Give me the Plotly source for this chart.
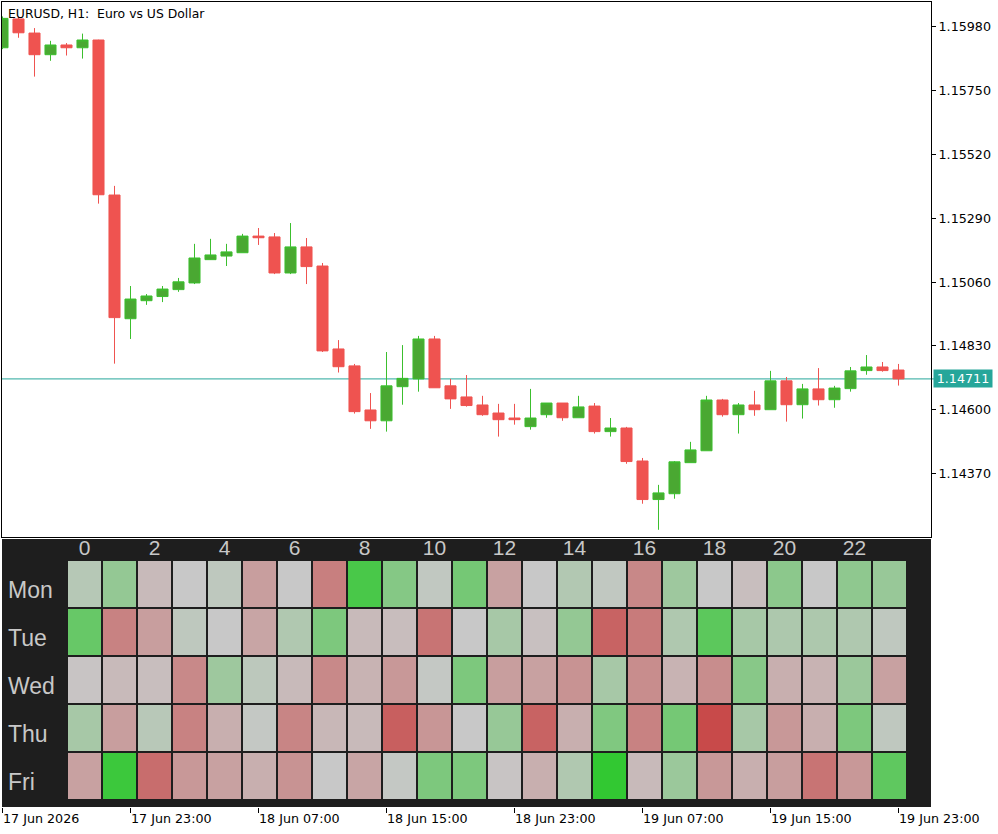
import pandas as pd
import plotly.graph_objects as go

W, H = 998, 834

symbol = "EURUSD, H1:\u00a0 Euro vs US Dollar"

# hourly bars, 17 Jun 2026 15:00 .. 19 Jun 2026 23:00
times = pd.date_range("2026-06-17 15:00", periods=57, freq="h")

opens = [1.15905, 1.16009, 1.15958, 1.15880, 1.15915, 1.15905, 1.15933, 1.15374, 1.14928, 1.14993,
         1.15008, 1.15033, 1.15057, 1.15141, 1.15154, 1.15166, 1.15226, 1.15223, 1.15093, 1.15187,
         1.15118, 1.14819, 1.14758, 1.14599, 1.14560, 1.14683, 1.14711, 1.14855, 1.14686, 1.14646,
         1.14617, 1.14588, 1.14570, 1.14539, 1.14582, 1.14624, 1.14571, 1.14613, 1.14521, 1.14534,
         1.14415, 1.14276, 1.14297, 1.14409, 1.14452, 1.14635, 1.14582, 1.14617, 1.14600, 1.14704,
         1.14618, 1.14675, 1.14636, 1.14676, 1.14741, 1.14754, 1.14743]
highs = [1.16018, 1.16017, 1.15976, 1.15930, 1.15922, 1.15956, 1.15934, 1.15407, 1.15046, 1.15017,
         1.15046, 1.15075, 1.15198, 1.15216, 1.15198, 1.15234, 1.15255, 1.15237, 1.15273, 1.15219,
         1.15129, 1.14851, 1.14765, 1.14660, 1.14808, 1.14833, 1.14866, 1.14866, 1.14711, 1.14725,
         1.14650, 1.14621, 1.14621, 1.14675, 1.14624, 1.14624, 1.14650, 1.14624, 1.14570, 1.14538,
         1.14426, 1.14329, 1.14415, 1.14484, 1.14650, 1.14639, 1.14624, 1.14668, 1.14740, 1.14718,
         1.14693, 1.14750, 1.14686, 1.14754, 1.14797, 1.14772, 1.14765]
lows = [1.15900, 1.15941, 1.15801, 1.15858, 1.15877, 1.15866, 1.15343, 1.14766, 1.14855, 1.14978,
        1.14988, 1.15025, 1.15053, 1.15140, 1.15118, 1.15166, 1.15194, 1.15089, 1.15089, 1.15053,
        1.14808, 1.14734, 1.14586, 1.14531, 1.14521, 1.14618, 1.14665, 1.14679, 1.14603, 1.14611,
        1.14578, 1.14503, 1.14546, 1.14528, 1.14571, 1.14560, 1.14571, 1.14514, 1.14503, 1.14405,
        1.14261, 1.14167, 1.14279, 1.14409, 1.14452, 1.14575, 1.14514, 1.14578, 1.14600, 1.14557,
        1.14568, 1.14615, 1.14607, 1.14665, 1.14726, 1.14737, 1.14687]
closes = [1.16011, 1.15959, 1.15880, 1.15915, 1.15905, 1.15933, 1.15375, 1.14932, 1.14999, 1.15010,
          1.15035, 1.15061, 1.15147, 1.15158, 1.15169, 1.15226, 1.15220, 1.15093, 1.15187, 1.15116,
          1.14812, 1.14755, 1.14593, 1.14560, 1.14686, 1.14713, 1.14855, 1.14679, 1.14639, 1.14615,
          1.14582, 1.14564, 1.14564, 1.14570, 1.14624, 1.14571, 1.14610, 1.14521, 1.14534, 1.14413,
          1.14276, 1.14300, 1.14412, 1.14455, 1.14635, 1.14582, 1.14617, 1.14600, 1.14704, 1.14618,
          1.14675, 1.14636, 1.14678, 1.14740, 1.14754, 1.14741, 1.14711]

price_ticks = [1.15980, 1.15750, 1.15520, 1.15290, 1.15060, 1.14830, 1.14600, 1.14370]

time_tick_vals = ["2026-06-17 15:00", "2026-06-17 23:00", "2026-06-18 07:00", "2026-06-18 15:00",
                  "2026-06-18 23:00", "2026-06-19 07:00", "2026-06-19 15:00", "2026-06-19 23:00"]
time_tick_text = ["17 Jun 2026", "17 Jun 23:00", "18 Jun 07:00", "18 Jun 15:00",
                  "18 Jun 23:00", "19 Jun 07:00", "19 Jun 15:00", "19 Jun 23:00"]

# hour-of-day / weekday heatmap (negative = red, positive = green)
days = ["Mon", "Tue", "Wed", "Thu", "Fri"]
hours = list(range(24))
mon = [0.12, 0.35, -0.10, 0.0, 0.07, -0.30, 0.0, -0.52, 0.85, 0.45, 0.05, 0.55,
       -0.28, 0.0, 0.15, 0.05, -0.46, 0.28, 0.0, -0.07, 0.40, 0.0, 0.38, 0.32]
tue = [0.65, -0.50, -0.30, 0.07, 0.0, -0.25, 0.16, 0.50, -0.10, -0.08, -0.60, 0.0,
       0.22, -0.06, 0.35, -0.72, -0.55, 0.17, 0.72, 0.22, 0.18, 0.18, 0.17, 0.06]
wed = [-0.03, -0.10, -0.07, -0.45, 0.28, 0.08, -0.10, -0.45, -0.15, -0.34, 0.03, 0.50,
       -0.30, -0.28, -0.38, 0.22, -0.42, -0.15, -0.42, 0.43, -0.18, -0.15, 0.30, -0.28]
thu = [0.22, -0.30, 0.11, -0.50, -0.18, 0.03, -0.48, -0.12, -0.10, -0.75, -0.36, 0.0,
       0.33, -0.72, -0.18, 0.48, -0.50, 0.55, -0.90, 0.22, -0.34, -0.18, 0.50, 0.06]
fri = [-0.28, 0.93, -0.65, -0.34, -0.28, -0.18, -0.38, 0.0, -0.25, 0.03, 0.50, 0.50,
       -0.03, -0.18, 0.16, 1.0, -0.10, 0.30, -0.34, -0.18, -0.30, -0.60, -0.34, 0.70]
hour_tick_vals = [0, 2, 4, 6, 8, 10, 12, 14, 16, 18, 20, 22]


def px_x(p):
    return p / W


def px_y(p):
    return 1 - p / H


AXFONT = dict(family="DejaVu Sans", size=12.7, color="black")
LIGHT = "#c8c8c8"

fig = go.Figure()

fig.add_trace(go.Candlestick(
    x=times, open=opens, high=highs, low=lows, close=closes,
    increasing=dict(line=dict(color="#3cbf2e", width=1), fillcolor="#4aa832"),
    decreasing=dict(line=dict(color="#ef5350", width=1), fillcolor="#ef5350"),
    whiskerwidth=0, showlegend=False, hoverinfo="skip",
    xaxis="x", yaxis="y",
))

# invisible helper trace for the bottom time axis
fig.add_trace(go.Scatter(x=[times[0]], y=[closes[0]], mode="markers",
                         marker=dict(opacity=0), xaxis="x3", yaxis="y",
                         showlegend=False, hoverinfo="skip"))

fig.add_trace(go.Heatmap(
    z=[mon, tue, wed, thu, fri], x=hours, y=days,
    zmin=-1, zmax=1,
    colorscale=[[0, "rgb(200,60,60)"], [0.5, "rgb(200,200,200)"], [1, "rgb(50,200,50)"]],
    xgap=2, ygap=2, showscale=False, hoverinfo="skip",
    xaxis="x2", yaxis="y2",
))

x_range = ["2026-06-17 14:58:07.5", "2026-06-20 01:01:52.5"]

fig.update_layout(
    width=W, height=H, margin=dict(l=0, r=0, t=0, b=0, autoexpand=False),
    paper_bgcolor="white", plot_bgcolor="white",
    boxgap=0.31, boxgroupgap=0,
    font=AXFONT,
    xaxis=dict(domain=[px_x(2), px_x(931)], range=x_range, type="date", automargin=False,
               showgrid=False, zeroline=False, showticklabels=False, ticks="",
               showline=True, mirror=True, linecolor="black", linewidth=1,
               rangeslider=dict(visible=False), anchor="y"),
    yaxis=dict(domain=[px_y(537), px_y(2)], range=[1.14141, 1.16070], side="right",
               automargin=False,
               showgrid=False, zeroline=False, tickvals=price_ticks,
               ticktext=[f"{v:.5f}" for v in price_ticks],
               ticks="outside", ticklen=4, tickcolor="black", tickfont=AXFONT,
               showline=True, mirror=True, linecolor="black", linewidth=1, anchor="x"),
    xaxis3=dict(overlaying="x", anchor="free", position=px_y(807), range=x_range, type="date",
                automargin=False,
                tickvals=time_tick_vals, ticktext=time_tick_text, ticks="outside",
                ticklen=5, tickcolor="black", tickfont=AXFONT, showgrid=False,
                zeroline=False, showline=False, ticklabelposition="outside right"),
    xaxis2=dict(domain=[px_x(67), px_x(907)], range=[-0.5, 23.5], side="top",
                automargin=False,
                tickvals=hour_tick_vals, ticks="", showgrid=False, zeroline=False,
                tickfont=dict(family="Liberation Sans", size=21, color=LIGHT),
                showline=False, anchor="y2"),
    yaxis2=dict(domain=[px_y(800), px_y(560)], autorange="reversed", showticklabels=False,
                automargin=False,
                showgrid=False, zeroline=False, showline=False, anchor="x2"),
)

# dark heatmap panel
fig.add_shape(type="rect", xref="paper", yref="paper",
              x0=px_x(2), x1=px_x(931), y0=px_y(807), y1=px_y(539),
              fillcolor="#1e1e1e", line=dict(width=0), layer="below")

# current price line
fig.add_shape(type="line", xref="paper", yref="y",
              x0=px_x(2), x1=px_x(934), y0=closes[-1], y1=closes[-1],
              line=dict(color="#26a69a", width=1), layer="below")

fig.add_annotation(xref="paper", yref="y", x=px_x(933), y=closes[-1],
                   text=f"{closes[-1]:.5f}", showarrow=False, xanchor="left",
                   yanchor="middle", bgcolor="#26a69a", width=56, height=15,
                   font=dict(family="DejaVu Sans", size=12.7, color="white"))

fig.add_annotation(xref="paper", yref="paper", x=px_x(6), y=px_y(13),
                   text=symbol, showarrow=False, xanchor="left", yanchor="middle",
                   font=dict(family="DejaVu Sans", size=12.4, color="black"))

for d in days:
    fig.add_annotation(xref="paper", yref="y2", x=px_x(6), y=d, text=d,
                       showarrow=False, xanchor="left", yanchor="middle", yshift=-6,
                       font=dict(family="Liberation Sans", size=23, color=LIGHT))

fig.write_html("out.html")
